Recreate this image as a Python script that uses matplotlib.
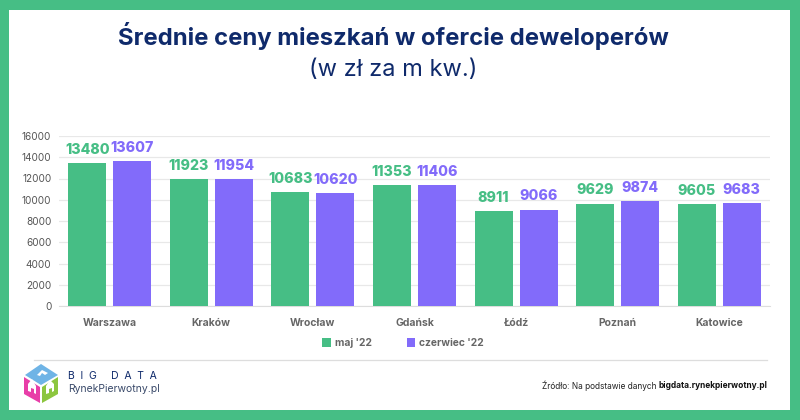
import matplotlib
matplotlib.use('Agg')
import matplotlib.pyplot as plt
from matplotlib.patches import Polygon, Rectangle

cities = ['Warszawa', 'Kraków', 'Wrocław', 'Gdańsk', 'Łódź', 'Poznań', 'Katowice']
maj = [13480, 11923, 10683, 11353, 8911, 9629, 9605]
czerwiec = [13607, 11954, 10620, 11406, 9066, 9874, 9683]
y_ticks = list(range(0, 16001, 2000))

GREEN = '#46BE85'
PURPLE = '#826BFA'
NAVY = '#0F2A6B'
W, H = 800, 420

plt.rcParams['font.family'] = ['Inter', 'DejaVu Sans']

fig = plt.figure(figsize=(W / 100, H / 100), dpi=100, facecolor=GREEN)


def px(x, y):
    # piksele obrazka -> wspolrzedne figury
    return x / W, 1 - y / H


# biale tlo w ramce
fig.add_artist(Rectangle(px(9, 410), 781 / W, 400 / H, transform=fig.transFigure,
                         facecolor='white', edgecolor='none', zorder=0))

ax = fig.add_axes([59 / W, 1 - 306 / H, 711 / W, 170 / H])
ax.patch.set_alpha(0)
xs = list(range(len(cities)))
bar_w = 0.374
off = 0.222
ax.bar([x - off for x in xs], maj, bar_w, color=GREEN, zorder=3, label="maj '22")
ax.bar([x + off for x in xs], czerwiec, bar_w, color=PURPLE, zorder=3, label="czerwiec '22")

for x, a, b in zip(xs, maj, czerwiec):
    ax.annotate(str(a), (x - off, a), xytext=(0, 4.5), textcoords='offset points', ha='center',
                va='bottom', color=GREEN, fontsize=10.2, fontweight='heavy')
    ax.annotate(str(b), (x + off, b), xytext=(0, 4.5), textcoords='offset points', ha='center',
                va='bottom', color=PURPLE, fontsize=10.2, fontweight='heavy')

ax.set_xlim(-0.5, len(cities) - 0.5)
ax.set_ylim(0, 16000)
ax.set_yticks(y_ticks)
ax.set_xticks(xs)
ax.set_xticklabels(cities, fontsize=7.5, fontweight='bold', color='#666666')
ax.tick_params(axis='both', length=0)
ax.tick_params(axis='x', pad=9)
ax.tick_params(axis='y', pad=5.5, labelsize=7.2, labelcolor='#555555')
ax.grid(axis='y', color='#E8E8E8', linewidth=0.9, zorder=0)
for s in ax.spines.values():
    s.set_visible(False)
ax.spines['bottom'].set_visible(True)
ax.spines['bottom'].set_color('#DDDDDD')

fig.text(*px(393.5, 36), 'Średnie ceny mieszkań w ofercie deweloperów', ha='center', va='center',
         fontsize=17.2, fontweight='bold', color=NAVY)
fig.text(*px(393, 70), '(w zł za m kw.)', ha='center', va='center', fontsize=17, color=NAVY)

# legenda
leg = ax.legend(loc='center', bbox_to_anchor=((403 - 59) / 711, (306 - 343) / 170), ncol=2, frameon=False,
                fontsize=7.4, handlelength=0.85, handleheight=0.85, columnspacing=3.4, handletextpad=0.4)
for t in leg.get_texts():
    t.set_fontweight('bold')
    t.set_color('#666666')

# linia nad stopka
fig.add_artist(plt.Line2D([34 / W, 767 / W], [1 - 359.5 / H] * 2, color='#DDDDDD', linewidth=0.9))

# logo - kostka
faces = [
    ([(25, 375), (41, 364), (58, 375), (41, 385)], '#6FB4E6'),
    ([(24, 377), (40, 387), (40, 403), (24, 394)], '#E83EA8'),
    ([(42, 387), (58, 377), (58, 394), (42, 403)], '#8CC63F'),
]
for pts, c in faces:
    fig.add_artist(Polygon([px(*p) for p in pts], closed=True, transform=fig.transFigure,
                           facecolor=c, edgecolor='none'))
houses = [
    [(37, 375), (42, 370), (48, 373), (45, 375), (42, 373), (40, 376)],
    [(28, 391), (28, 384), (32, 379), (36, 386), (36, 394), (34, 393), (34, 389), (31, 388), (31, 392)],
    [(46, 394), (46, 386), (50, 380), (54, 384), (54, 391), (52, 392), (52, 388), (49, 389), (49, 393)],
]
for pts in houses:
    fig.add_artist(Polygon([px(*p) for p in pts], closed=True, transform=fig.transFigure,
                           facecolor='white', edgecolor='none'))
fig.text(*px(68, 376), 'B  I  G     D  A  T  A', ha='left', va='center', fontsize=7.5, color=NAVY)
fig.text(*px(68, 389), 'RynekPierwotny.pl', ha='left', va='center', fontsize=7.5, color='#3A4A6A')

fig.text(*px(657, 385.5), 'Źródło: Na podstawie danych', ha='right', va='center', fontsize=6, color='#222222')
fig.text(*px(767, 385.5), 'bigdata.rynekpierwotny.pl', ha='right', va='center', fontsize=6,
         fontweight='bold', color='#111111')

fig.savefig('out.png', dpi=100, facecolor=GREEN)
